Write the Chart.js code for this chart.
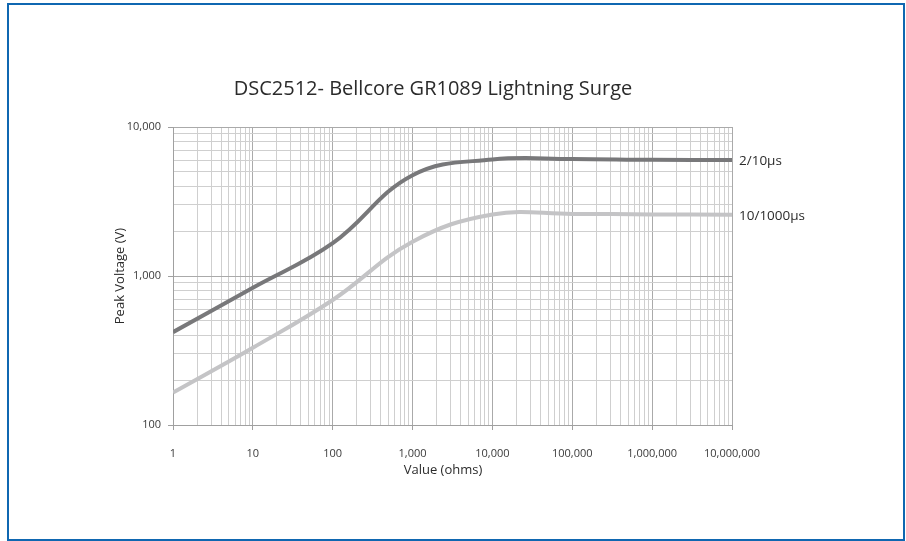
<!DOCTYPE html>
<html>
<head>
<meta charset="utf-8">
<script src="https://cdn.jsdelivr.net/npm/chart.js@4"></script>
<style>
  html, body { margin: 0; padding: 0; background: #fff; }
  #wrap { position: relative; width: 906px; height: 541px; }
  #frame {
    position: absolute; left: 7px; top: 3px; width: 898px; height: 538px;
    box-sizing: border-box; border: 2px solid #0f67b1; pointer-events: none;
  }
</style>
</head>
<body>
<div id="wrap">
  <canvas id="surgeChart" width="906" height="541"></canvas>
  <div id="frame"></div>
</div>
<script>
// --- data ---
const chartTitle = "DSC2512- Bellcore GR1089 Lightning Surge";
const xTitle = "Value (ohms)";
const yTitle = "Peak Voltage (V)";

const resistance   = [1,   10,  100,  1000, 10000, 100000, 1000000, 10000000];
const surge2x10    = [420, 834, 1660, 4750, 6050,  6100,   6020,    6000];
const surge10x1000 = [165, 330, 690,  1700, 2590,  2610,   2590,    2580];

const xDecades = [1, 10, 100, 1000, 10000, 100000, 1000000, 10000000];
const yDecades = [100, 1000, 10000];

const seriesNames = ["2/10\u00b5s", "10/1000\u00b5s"];

// tick list: every 1..9 step inside each decade, labels only on the decades
function logTicks(decades) {
    const ticks = [];
    decades.forEach((d, i) => {
        if (i < decades.length - 1) {
            for (let m = 1; m < 10; m++) ticks.push({ value: m * d });
        } else {
            ticks.push({ value: d });
        }
    });
    return ticks;
}

function axisOptions(decades, isX) {
    const major = v => decades.includes(v);
    return {
        type: 'logarithmic',
        min: decades[0],
        max: decades[decades.length - 1],
        afterBuildTicks: scale => { scale.ticks = logTicks(decades); },
        afterFit: scale => {
            if (isX) scale.height = 116;
            else scale.width = 173;
        },
        border: { display: true, color: '#a0a0a0', width: 1 },
        grid: {
            color: c => (c.tick && major(c.tick.value)) ? '#aaaaaa' : '#cfcfcf',
            tickColor: c => (c.tick && major(c.tick.value)) ? '#a0a0a0' : 'rgba(0,0,0,0)',
            tickLength: 5,
            lineWidth: 1
        },
        ticks: {
            autoSkip: false,
            maxRotation: 0,
            padding: isX ? 17 : 7,
            color: '#3a3a3a',
            font: { family: '"Open Sans", sans-serif', size: 11 },
            callback: v => major(v) ? v.toLocaleString('en-US') : ''
        }
    };
}

const annotate = {
    id: 'annotate',
    afterDraw(chart) {
        const ctx = chart.ctx;
        const area = chart.chartArea;
        ctx.save();
        ctx.fillStyle = '#2b2b2b';
        ctx.textBaseline = 'middle';

        ctx.textAlign = 'center';
        ctx.font = '20px "Open Sans", sans-serif';
        ctx.fillText(chartTitle, 433, 89);

        ctx.font = '13px "Open Sans", sans-serif';
        ctx.fillText(xTitle, 443, 470);

        ctx.save();
        ctx.translate(area.left - 53, (area.top + area.bottom) / 2);
        ctx.rotate(-Math.PI / 2);
        ctx.fillText(yTitle, 0, 0);
        ctx.restore();

        // series names at the end of each line
        ctx.textAlign = 'left';
        ctx.font = '13.5px "Open Sans", sans-serif';
        chart.data.datasets.forEach((ds, i) => {
            const pts = chart.getDatasetMeta(i).data;
            const last = pts[pts.length - 1];
            ctx.fillText(ds.label, last.x + 7, last.y + 1);
        });
        ctx.restore();
    }
};

const toPoints = ys => resistance.map((x, i) => ({ x: x, y: ys[i] }));

new Chart(document.getElementById('surgeChart'), {
    type: 'line',
    data: {
        datasets: [
            {
                label: seriesNames[0],
                data: toPoints(surge2x10),
                borderColor: '#78787a',
                borderWidth: 4,
                pointRadius: 0,
                tension: 0.4,
                fill: false
            },
            {
                label: seriesNames[1],
                data: toPoints(surge10x1000),
                borderColor: '#c4c4c6',
                borderWidth: 4,
                pointRadius: 0,
                tension: 0.4,
                fill: false
            }
        ]
    },
    options: {
        responsive: false,
        animation: false,
        layout: { padding: { left: 0, top: 127, right: 174, bottom: 0 } },
        plugins: {
            legend: { display: false },
            title: { display: false },
            tooltip: { enabled: false }
        },
        scales: {
            x: axisOptions(xDecades, true),
            y: axisOptions(yDecades, false)
        }
    },
    plugins: [annotate]
});
</script>
</body>
</html>
